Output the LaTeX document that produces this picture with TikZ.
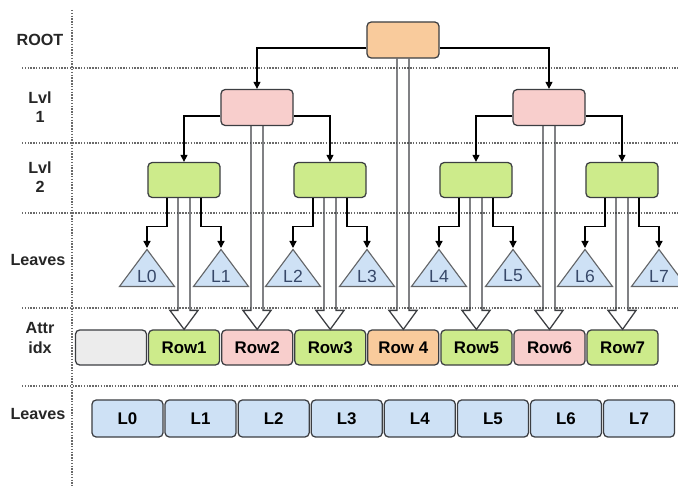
\documentclass[tikz,border=0pt]{standalone}
\usepackage{fontspec}
\setmainfont{Liberation Sans}
\usetikzlibrary{shapes.geometric, arrows.meta, positioning, calc}
\definecolor{RootFill}{RGB}{249,203,156}
\definecolor{LvlOneFill}{RGB}{248,206,204}
\definecolor{LvlTwoFill}{RGB}{205,235,139}
\definecolor{LeafFill}{RGB}{206,225,245}
\definecolor{EmptyFill}{RGB}{236,236,236}
\definecolor{EdgeGray}{RGB}{60,62,66}
\definecolor{TriText}{RGB}{55,72,105}
\definecolor{GridGray}{RGB}{105,105,105}

% hollow double arrow from a tree node down to its row
\newcommand{\fatarrow}[2]{%
  \draw[fat_link] let \p1=(#1.south), \p2=(#2.north) in
    (\x1-4.3pt,\y1) -- (\x1-4.3pt,\y2+13.5pt) -- (\x1-10pt,\y2+13.5pt) -- (\x2,\y2)
    -- (\x1+10pt,\y2+13.5pt) -- (\x1+4.3pt,\y2+13.5pt) -- (\x1+4.3pt,\y1);}

\begin{document}
\begin{tikzpicture}[x=0.025cm, y=-0.025cm]
        \tikzset{
            tree_box/.style={rectangle, rounded corners=3pt, draw=EdgeGray, line width=0.9pt, minimum width=1.8cm, minimum height=0.9cm},
            row_box/.style={rectangle, rounded corners=3pt, draw=EdgeGray, line width=0.9pt, minimum width=1.775cm, minimum height=0.875cm, font=\fontsize{12}{14}\selectfont\bfseries},
            leaf_box/.style={row_box, fill=LeafFill, minimum height=0.925cm},
            leaf_tri/.style={isosceles triangle, shape border rotate=90, isosceles triangle stretches, minimum width=1.375cm, minimum height=0.925cm, inner sep=0pt, draw=EdgeGray!80, line width=0.8pt, fill=LeafFill, text=TriText, font=\fontsize{12.5}{14}\selectfont, anchor=apex},
            level_label/.style={align=center, font=\fontsize{11.5}{14}\selectfont\bfseries, text=black!85},
            grid_line/.style={GridGray, line width=0.9pt, dash pattern=on 1pt off 1pt},
            link/.style={-{Triangle[length=5pt,width=5pt]}, line width=0.9pt},
            fat_link/.style={line width=0.9pt, draw=EdgeGray, line join=miter}
        }
        \useasboundingbox (0,0) rectangle (678,486);

        % level grid
        \draw[grid_line] (72,10) -- (72,486);
        \draw[grid_line] (22,68) -- (678,68);
        \draw[grid_line] (22,143) -- (678,143);
        \draw[grid_line] (22,213) -- (678,213);
        \draw[grid_line] (22,308) -- (678,308);
        \draw[grid_line] (22,386) -- (678,386);

        \node[level_label] (labRoot) at (40,40) {ROOT};
        \node[level_label] (labLvl1) at (40,107) {Lvl\\1};
        \node[level_label] (labLvl2) at (40,177) {Lvl\\2};
        \node[level_label] (labLeaves) at (38,260) {Leaves};
        \node[level_label] (labAttr) at (40,338) {Attr\\idx};
        \node[level_label] (labLeafRow) at (38,414) {Leaves};

        % tree
        \node[tree_box, fill=RootFill] (root) at (403,40) {};
        \node[tree_box, fill=LvlOneFill] (lv1a) at (257,107.5) {};
        \node[tree_box, fill=LvlOneFill] (lv1b) at (549,107.5) {};
        \node[tree_box, fill=LvlTwoFill, minimum height=0.875cm] (lv2a) at (184,180) {};
        \node[tree_box, fill=LvlTwoFill, minimum height=0.875cm] (lv2b) at (330,180) {};
        \node[tree_box, fill=LvlTwoFill, minimum height=0.875cm] (lv2c) at (476,180) {};
        \node[tree_box, fill=LvlTwoFill, minimum height=0.875cm] (lv2d) at (622,180) {};

        \node[leaf_tri] (tri0) at (147,248) {L0};
        \node[leaf_tri] (tri1) at (221,248) {L1};
        \node[leaf_tri] (tri2) at (293,248) {L2};
        \node[leaf_tri] (tri3) at (367,248) {L3};
        \node[leaf_tri] (tri4) at (439,248) {L4};
        \node[leaf_tri] (tri5) at (513,248) {L5};
        \node[leaf_tri] (tri6) at (585,248) {L6};
        \node[leaf_tri] (tri7) at (659,248) {L7};

        % attr idx row
        \node[row_box, fill=EmptyFill] (rowx) at (111,347.5) {};
        \node[row_box, fill=LvlTwoFill, right=0.02cm of rowx] (row1) {Row1};
        \node[row_box, fill=LvlOneFill, right=0.02cm of row1] (row2) {Row2};
        \node[row_box, fill=LvlTwoFill, right=0.02cm of row2] (row3) {Row3};
        \node[row_box, fill=RootFill, right=0.02cm of row3] (row4) {Row 4};
        \node[row_box, fill=LvlTwoFill, right=0.02cm of row4] (row5) {Row5};
        \node[row_box, fill=LvlOneFill, right=0.02cm of row5] (row6) {Row6};
        \node[row_box, fill=LvlTwoFill, right=0.02cm of row6] (row7) {Row7};

        % leaves row
        \node[leaf_box] (leaf0) at (127.5,418.5) {L0};
        \node[leaf_box, right=0.02cm of leaf0] (leaf1) {L1};
        \node[leaf_box, right=0.02cm of leaf1] (leaf2) {L2};
        \node[leaf_box, right=0.02cm of leaf2] (leaf3) {L3};
        \node[leaf_box, right=0.02cm of leaf3] (leaf4) {L4};
        \node[leaf_box, right=0.02cm of leaf4] (leaf5) {L5};
        \node[leaf_box, right=0.02cm of leaf5] (leaf6) {L6};
        \node[leaf_box, right=0.02cm of leaf6] (leaf7) {L7};

        \draw[link] ([yshift=-5.7pt]root.west) -| (lv1a.north);
        \draw[link] ([yshift=-5.7pt]root.east) -| (lv1b.north);
        \draw[link] ([yshift=-6pt]lv1a.west) -| (lv2a.north);
        \draw[link] ([yshift=-6pt]lv1a.east) -| (lv2b.north);
        \draw[link] ([yshift=-6pt]lv1b.west) -| (lv2c.north);
        \draw[link] ([yshift=-6pt]lv1b.east) -| (lv2d.north);

        \draw[link] ([xshift=-12pt]lv2a.south) -- ++(0,-20pt) -| (tri0.apex);
        \draw[link] ([xshift=12pt]lv2a.south) -- ++(0,-20pt) -| (tri1.apex);
        \draw[link] ([xshift=-12pt]lv2b.south) -- ++(0,-20pt) -| (tri2.apex);
        \draw[link] ([xshift=12pt]lv2b.south) -- ++(0,-20pt) -| (tri3.apex);
        \draw[link] ([xshift=-12pt]lv2c.south) -- ++(0,-20pt) -| (tri4.apex);
        \draw[link] ([xshift=12pt]lv2c.south) -- ++(0,-20pt) -| (tri5.apex);
        \draw[link] ([xshift=-12pt]lv2d.south) -- ++(0,-20pt) -| (tri6.apex);
        \draw[link] ([xshift=12pt]lv2d.south) -- ++(0,-20pt) -| (tri7.apex);

        \fatarrow{root}{row4}
        \fatarrow{lv1a}{row2}
        \fatarrow{lv1b}{row6}
        \fatarrow{lv2a}{row1}
        \fatarrow{lv2b}{row3}
        \fatarrow{lv2c}{row5}
        \fatarrow{lv2d}{row7}

    \end{tikzpicture}
\end{document}
